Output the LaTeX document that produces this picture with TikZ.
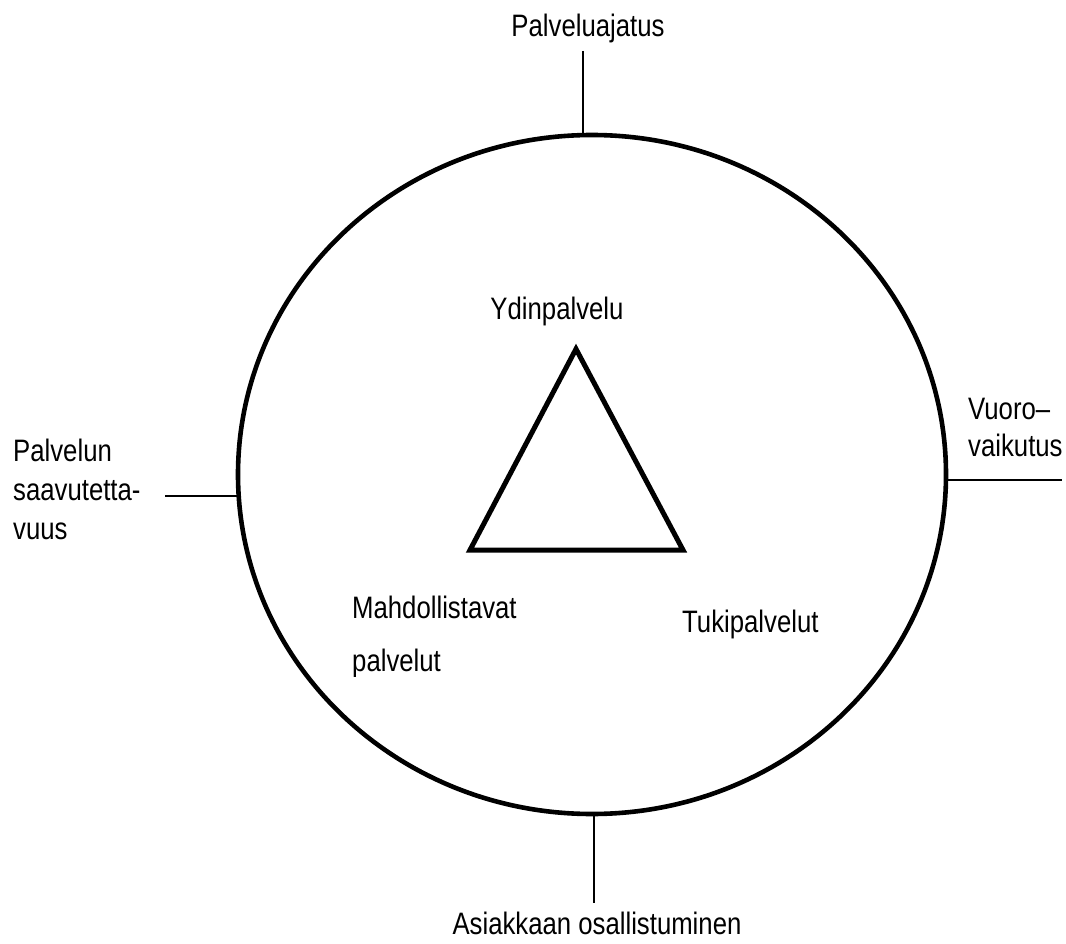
\documentclass[tikz,border=0pt]{standalone}
\usepackage{fontspec}
\setmainfont[FakeStretch=0.83]{Liberation Sans}
\usetikzlibrary{shapes.geometric}
\begin{document}
\begin{tikzpicture}[x=1pt,y=-1pt,
  lbl/.style={inner sep=0pt, font=\fontsize{31}{38}\selectfont},
  tick/.style={line width=1.6pt},
  ringline/.style={line width=4.6pt},
  tri/.style={line width=5pt, line join=miter}]
  \useasboundingbox (0,0) rectangle (1066,944);

  % outer circle of the service package
  \node[draw, ringline, ellipse, minimum width=708pt, minimum height=679pt, inner sep=0pt]
    (ring) at (592,474.5) {};

  % central triangle
  \coordinate (apex) at (576,349);
  \coordinate (bl) at (470,550);
  \coordinate (br) at (683,550);
  \draw[tri] (apex) -- (bl) -- (br) -- cycle;

  % ticks leaving the circle
  \coordinate (topA) at (583,51);   \coordinate (topB) at (583,135);
  \coordinate (rgtA) at (946,480);  \coordinate (rgtB) at (1062,480);
  \coordinate (lftA) at (165,496);  \coordinate (lftB) at (238,496);
  \coordinate (botA) at (594,814);  \coordinate (botB) at (594,903);
  \draw[tick] (topA) -- (topB);
  \draw[tick] (rgtA) -- (rgtB);
  \draw[tick] (lftA) -- (lftB);
  \draw[tick] (botA) -- (botB);

  % outer labels (base anchor sits on the last line)
  \node[lbl, anchor=base] (ajatus) at (588,37) {Palveluajatus};
  \node[lbl, anchor=base west, align=left, font=\fontsize{31}{37}\selectfont]
    (vuoro) at (968,456) {Vuoro–\\vaikutus};
  \node[lbl, anchor=base west, align=left, font=\fontsize{31}{39}\selectfont]
    (saav) at (13,539) {Palvelun\\saavutetta-\\vuus};
  \node[lbl, anchor=base] (asiakas) at (597,934) {Asiakkaan osallistuminen};

  % inner labels
  \node[lbl, anchor=base] (ydin) at (557,319) {Ydinpalvelu};
  \node[lbl, anchor=base west] (tuki) at (682,632) {Tukipalvelut};
  \begin{scope}
    \clip (300,580) rectangle (560,676);
    \node[lbl, anchor=base west, align=left, font=\fontsize{31}{53}\selectfont]
      (mahd) at (352,671) {Mahdollistavat\\palvelut};
  \end{scope}
\end{tikzpicture}
\end{document}
